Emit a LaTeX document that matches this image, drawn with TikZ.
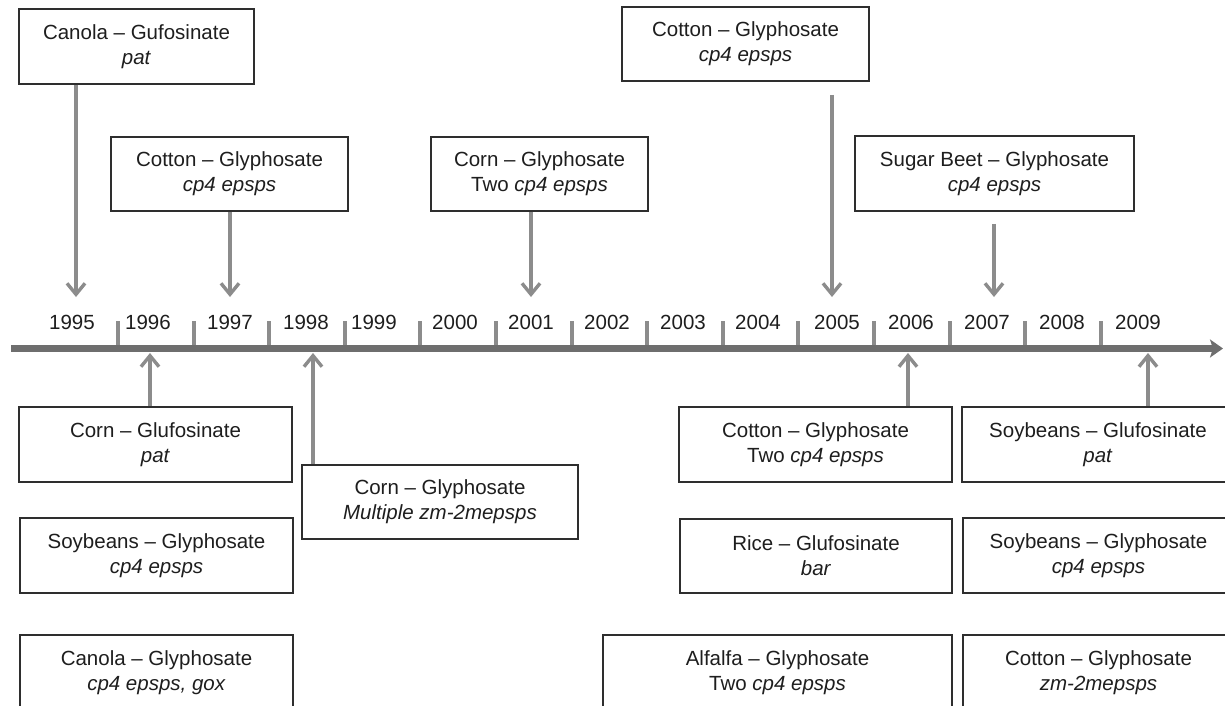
\documentclass[tikz,border=0pt]{standalone}
\usepackage{fontspec}
\setmainfont{Liberation Sans}
\usetikzlibrary{arrows.meta}
\definecolor{arrgray}{HTML}{8C8C8C}
\definecolor{linegray}{HTML}{6E6E6E}
\definecolor{boxline}{HTML}{2E2E2E}
\definecolor{txt}{HTML}{1E1E1E}
\begin{document}
\begin{tikzpicture}[x=1pt,y=-1pt,
  box/.style={draw=boxline, line width=1.6pt, fill=white, inner sep=0pt, align=center,
    text=txt, font=\fontsize{20.5}{25}\selectfont},
  yearlbl/.style={inner sep=0pt, text=txt, font=\fontsize{20.5}{24}\selectfont},
  arr/.style={draw=arrgray, line width=3.4pt, -{Straight Barb[length=11pt,width=18pt]}},
  tickmark/.style={draw=arrgray, line width=4pt},
  timeline/.style={draw=linegray, line width=6.5pt, -{Stealth[length=13pt,width=18pt,inset=3pt]}}
]
\useasboundingbox (0,0) rectangle (1225,706);
\clip (0,0) rectangle (1225,706);
\fill[white] (0,0) rectangle (1225,706);

% ticks
\foreach \i in {0,...,13} {
  \draw[tickmark] ({118+75.6*\i},321) -- ({118+75.6*\i},348);
}
% timeline
\coordinate (tl0) at (11,348.5);
\coordinate (tl1) at (1223,348.5);
\draw[timeline] (tl0) -- (tl1);

% year labels
\node[yearlbl] (y1995) at (72,322.5) {1995};
\node[yearlbl] (y1996) at (148,322.5) {1996};
\node[yearlbl] (y1997) at (230,322.5) {1997};
\node[yearlbl] (y1998) at (306,322.5) {1998};
\node[yearlbl] (y1999) at (374,322.5) {1999};
\node[yearlbl] (y2000) at (455,322.5) {2000};
\node[yearlbl] (y2001) at (531,322.5) {2001};
\node[yearlbl] (y2002) at (607,322.5) {2002};
\node[yearlbl] (y2003) at (683,322.5) {2003};
\node[yearlbl] (y2004) at (758,322.5) {2004};
\node[yearlbl] (y2005) at (837,322.5) {2005};
\node[yearlbl] (y2006) at (911,322.5) {2006};
\node[yearlbl] (y2007) at (987,322.5) {2007};
\node[yearlbl] (y2008) at (1062,322.5) {2008};
\node[yearlbl] (y2009) at (1138,322.5) {2009};

% top boxes
\node[box, minimum width=235pt, minimum height=75pt] (canola) at (136.5,46.5) {Canola -- Gufosinate\\\textit{pat}};
\node[box, minimum width=237pt, minimum height=74pt] (cot97) at (229.5,174) {Cotton -- Glyphosate\\\textit{cp4 epsps}};
\node[box, minimum width=217pt, minimum height=74pt] (corn01) at (539.5,174) {Corn -- Glyphosate\\Two \textit{cp4 epsps}};
\node[box, minimum width=247pt, minimum height=74pt] (cot05) at (745.5,44) {Cotton -- Glyphosate\\\textit{cp4 epsps}};
\node[box, minimum width=279pt, minimum height=75pt] (beet) at (994.5,173.5) {Sugar Beet -- Glyphosate\\\textit{cp4 epsps}};

% bottom boxes
\node[box, minimum width=273pt, minimum height=75pt] (cornglu) at (155.5,444.5) {Corn -- Glufosinate\\\textit{pat}};
\node[box, minimum width=276pt, minimum height=74pt] (corn98) at (440,502) {Corn -- Glyphosate\\\textit{Multiple zm-2mepsps}};
\node[box, minimum width=273pt, minimum height=75pt] (soygly) at (156.5,555.5) {Soybeans -- Glyphosate\\\textit{cp4 epsps}};
\node[box, minimum width=273pt, minimum height=75pt] (canolagly) at (156.5,672.5) {Canola -- Glyphosate\\\textit{cp4 epsps, gox}};
\node[box, minimum width=273pt, minimum height=75pt] (cot06) at (815.5,444.5) {Cotton -- Glyphosate\\Two \textit{cp4 epsps}};
\node[box, minimum width=272pt, minimum height=74pt] (rice) at (816,556) {Rice -- Glufosinate\\\textit{bar}};
\node[box, minimum width=349pt, minimum height=75pt] (alfalfa) at (777.5,672.5) {Alfalfa -- Glyphosate\\Two \textit{cp4 epsps}};
\node[box, minimum width=272pt, minimum height=75pt] (soyglu) at (1098,444.5) {Soybeans -- Glufosinate\\\textit{pat}};
\node[box, minimum width=271pt, minimum height=75pt] (soygly2) at (1098.5,555.5) {Soybeans -- Glyphosate\\\textit{cp4 epsps}};
\node[box, minimum width=271pt, minimum height=75pt] (cot09) at (1098.5,672.5) {Cotton -- Glyphosate\\\textit{zm-2mepsps}};

% arrow end points
\coordinate (a95) at (76,297);
\coordinate (a97) at (230,297);
\coordinate (a01) at (531,297);
\coordinate (a05) at (832,297);
\coordinate (a07) at (994,297);
\coordinate (b96) at (150,353);
\coordinate (b98) at (313,353);
\coordinate (b06) at (908,353);
\coordinate (b09) at (1148,353);

% top arrows
\draw[arr] (canola.south -| a95) -- (a95);
\draw[arr] (cot97.south -| a97) -- (a97);
\draw[arr] (corn01.south -| a01) -- (a01);
\draw[arr] ([yshift=-13pt]cot05.south -| a05) -- (a05);
\draw[arr] ([yshift=-12pt]beet.south -| a07) -- (a07);
% bottom arrows
\draw[arr] (cornglu.north -| b96) -- (b96);
\draw[arr] (corn98.north -| b98) -- (b98);
\draw[arr] (cot06.north -| b06) -- (b06);
\draw[arr] (soyglu.north -| b09) -- (b09);
\end{tikzpicture}
\end{document}
